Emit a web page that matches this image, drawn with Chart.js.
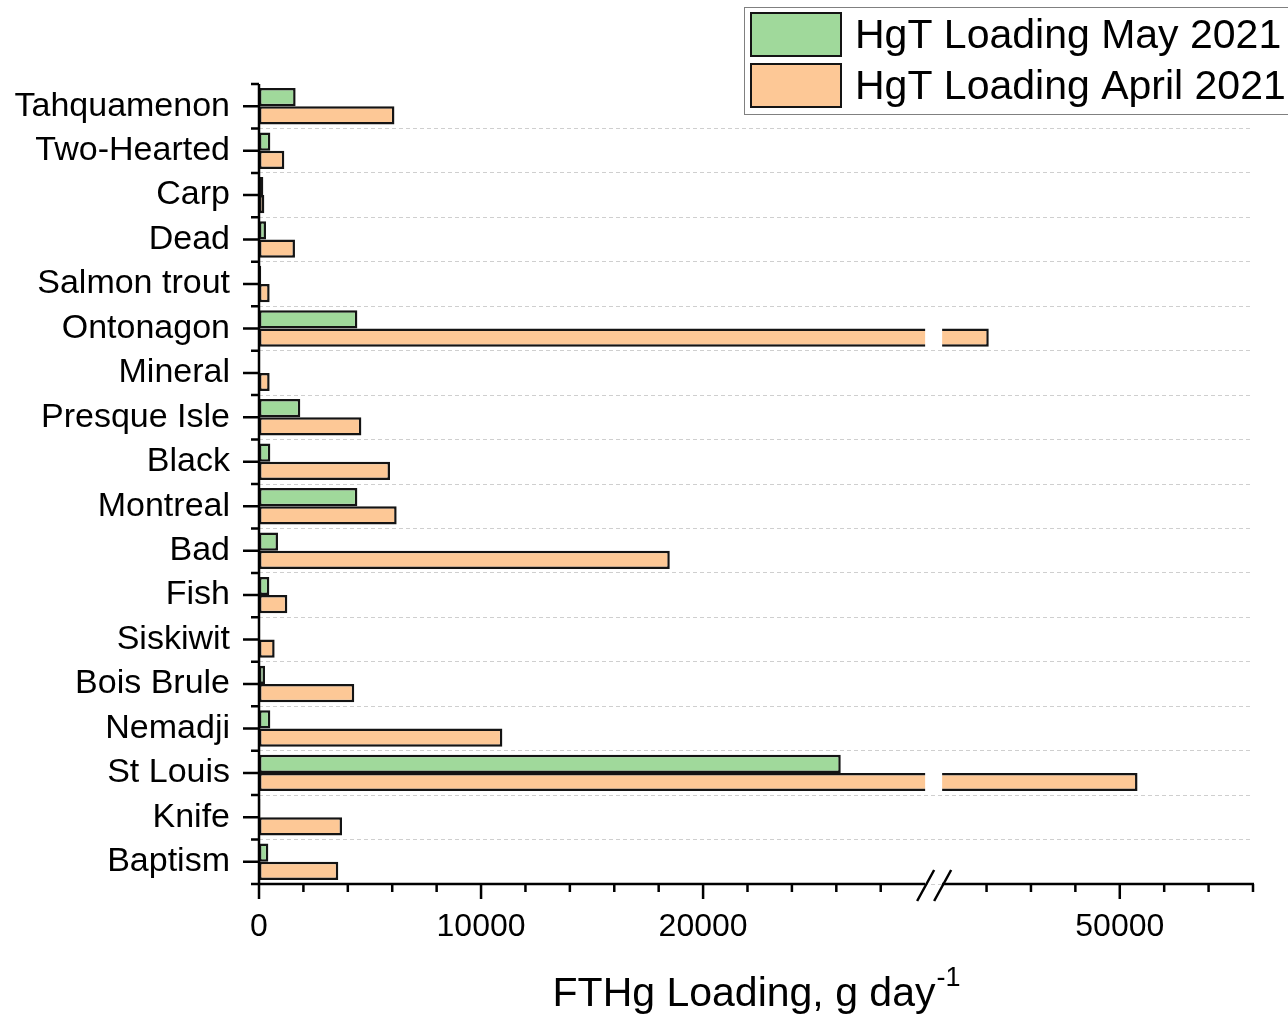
<!DOCTYPE html>
<html>
<head>
<meta charset="utf-8">
<script src="https://cdn.jsdelivr.net/npm/chart.js@4.4.1/dist/chart.umd.min.js"></script>
<style>
  html, body { margin: 0; padding: 0; background: #ffffff; }
  #wrap { width: 1288px; height: 1014px; }
</style>
</head>
<body>
<div id="wrap"><canvas id="loadingChart" width="1288" height="1014"></canvas></div>
<script>
// rivers, top to bottom
const categories = ['Tahquamenon', 'Two-Hearted', 'Carp', 'Dead', 'Salmon trout', 'Ontonagon',
  'Mineral', 'Presque Isle', 'Black', 'Montreal', 'Bad', 'Fish', 'Siskiwit', 'Bois Brule',
  'Nemadji', 'St Louis', 'Knife', 'Baptism'];

// HgT loading, g/day
const mayLoading = [1650, 510, 195, 315, 100, 4430, 20, 1860, 510, 4430, 855, 465, 40, 270,
  510, 26200, 60, 420];
const aprilLoading = [6100, 1140, 240, 1620, 480, 44100, 480, 4610, 5900, 6200, 18500, 1275, 705,
  4290, 10960, 50800, 3740, 3570];

const seriesLabels = ['HgT Loading May 2021', 'HgT Loading April 2021'];
const xMajorTicks = [0, 10000, 20000, 50000];
const xMinorStep = 2000;
const xBreak = [30000, 42000];
const xMax = 56000;
const axisTitle = 'FTHg Loading, g day';
const axisTitleSup = '-1';

// broken axis: values past the break are shifted left, leaving a small gap
const GAP = 766;
function toAxis(v) { return v <= xBreak[0] ? v : v - (xBreak[1] - xBreak[0]) + GAP; }
function fromAxis(a) { return a <= xBreak[0] ? a : a + (xBreak[1] - xBreak[0]) - GAP; }

const xTickValues = [];
for (let v = 0; v <= xMax; v += xMinorStep) {
  if (v < xBreak[0] || v > xBreak[1]) xTickValues.push(v);
}

const FONT = "'Liberation Sans', Arial, sans-serif";
Chart.defaults.font.family = FONT;
Chart.defaults.color = '#000000';

const colors = {
  may: '#a0d99b',
  april: '#fdc896',
  edge: '#141414',
  grid: '#cfcfcf'
};

// axes, break marks, legend and title (Origin style)
const brokenAxisPlugin = {
  id: 'brokenAxis',
  afterDatasetsDraw(chart) {
    const ctx = chart.ctx;
    const xs = chart.scales.x;
    const g0 = xs.getPixelForValue(xBreak[0]);
    const g1 = xs.getPixelForValue(toAxis(xBreak[1]));
    ctx.save();
    ctx.fillStyle = '#ffffff';
    chart.data.datasets.forEach((ds, di) => {
      chart.getDatasetMeta(di).data.forEach((bar, i) => {
        if (di === 0 ? mayLoading[i] > xBreak[0] : aprilLoading[i] > xBreak[0]) {
          ctx.fillRect(g0, bar.y - bar.height / 2 - 1, g1 - g0, bar.height + 2);
        }
      });
    });
    ctx.restore();
  },
  afterDraw(chart) {
    const ctx = chart.ctx;
    const area = chart.chartArea;
    const xs = chart.scales.x;
    const ys = chart.scales.y;
    const g0 = xs.getPixelForValue(xBreak[0]);
    const g1 = xs.getPixelForValue(toAxis(xBreak[1]));
    ctx.save();
    ctx.strokeStyle = '#000000';
    ctx.lineWidth = 2.5;
    ctx.lineCap = 'butt';

    // y axis line + ticks
    ctx.beginPath();
    ctx.moveTo(area.left, area.top);
    ctx.lineTo(area.left, area.bottom);
    const band = ys.getPixelForValue(1) - ys.getPixelForValue(0);
    categories.forEach((c, i) => {
      const y = ys.getPixelForValue(i);
      ctx.moveTo(area.left - 16, y);
      ctx.lineTo(area.left, y);
      ctx.moveTo(area.left - 8, y - band / 2);
      ctx.lineTo(area.left, y - band / 2);
    });
    ctx.moveTo(area.left - 8, area.bottom);
    ctx.lineTo(area.left, area.bottom);

    // x axis line (broken) + ticks
    ctx.moveTo(area.left, area.bottom);
    ctx.lineTo(g0, area.bottom);
    ctx.moveTo(g1, area.bottom);
    ctx.lineTo(area.right + 1, area.bottom);
    xTickValues.forEach(v => {
      const x = xs.getPixelForValue(toAxis(v));
      const len = xMajorTicks.includes(v) ? 15 : 8;
      ctx.moveTo(x, area.bottom);
      ctx.lineTo(x, area.bottom + len);
    });
    ctx.stroke();

    // break slashes
    ctx.beginPath();
    [g0 - 8, g1 - 8].forEach(x => {
      ctx.moveTo(x, area.bottom + 17);
      ctx.lineTo(x + 17, area.bottom - 14);
    });
    ctx.stroke();

    // legend
    ctx.strokeStyle = '#808080';
    ctx.lineWidth = 1;
    ctx.strokeRect(744.5, 7.5, 600, 107);
    ctx.font = '41px ' + FONT;
    ctx.textBaseline = 'middle';
    ctx.textAlign = 'left';
    chart.data.datasets.forEach((ds, i) => {
      const y = 12 + i * 51;
      ctx.fillStyle = ds.backgroundColor;
      ctx.fillRect(750, y, 92, 45);
      ctx.strokeStyle = ds.borderColor;
      ctx.lineWidth = 2;
      ctx.strokeRect(751, y + 1, 90, 43);
      ctx.fillStyle = '#000000';
      ctx.fillText(ds.label, 855, y + 25);
    });

    // x axis title with superscript
    ctx.textBaseline = 'alphabetic';
    ctx.font = '41px ' + FONT;
    const w1 = ctx.measureText(axisTitle).width;
    ctx.font = '27px ' + FONT;
    const w2 = ctx.measureText(axisTitleSup).width;
    const start = (area.left + area.right) / 2 - (w1 + w2) / 2;
    ctx.font = '41px ' + FONT;
    ctx.fillText(axisTitle, start, 1006);
    ctx.font = '27px ' + FONT;
    ctx.fillText(axisTitleSup, start + w1 + 1, 986);
    ctx.restore();
  }
};

const ctx = document.getElementById('loadingChart').getContext('2d');
new Chart(ctx, {
  type: 'bar',
  data: {
    labels: categories,
    datasets: [{
      label: seriesLabels[0],
      data: mayLoading.map(toAxis),
      backgroundColor: colors.may,
      borderColor: colors.edge,
      borderWidth: 2.5,
      borderSkipped: false,
      categoryPercentage: 0.82,
      barPercentage: 1
    }, {
      label: seriesLabels[1],
      data: aprilLoading.map(toAxis),
      backgroundColor: colors.april,
      borderColor: colors.edge,
      borderWidth: 2.5,
      borderSkipped: false,
      categoryPercentage: 0.82,
      barPercentage: 1
    }]
  },
  options: {
    indexAxis: 'y',
    responsive: false,
    animation: false,
    layout: { padding: { top: 84, right: 35, bottom: 0, left: 0 } },
    plugins: {
      legend: { display: false },
      tooltip: { enabled: false }
    },
    scales: {
      x: {
        type: 'linear',
        min: 0,
        max: toAxis(xMax),
        afterBuildTicks: s => { s.ticks = xTickValues.map(v => ({ value: toAxis(v) })); },
        ticks: {
          autoSkip: false,
          maxRotation: 0,
          padding: 24,
          font: { size: 32 },
          color: '#000000',
          callback: val => {
            const v = Math.round(fromAxis(val));
            return xMajorTicks.includes(v) ? String(v) : '';
          }
        },
        grid: { display: false, drawTicks: false },
        border: { display: false },
        afterFit: s => { s.height = 130; }
      },
      y: {
        type: 'category',
        ticks: { autoSkip: false, padding: 29, font: { size: 34 }, color: '#000000' },
        grid: {
          color: c => c.index === 0 ? 'rgba(0,0,0,0)' : colors.grid,
          lineWidth: 1,
          drawTicks: false
        },
        border: { display: false, dash: [4, 3] },
        afterFit: s => { s.width = 259; }
      }
    }
  },
  plugins: [brokenAxisPlugin]
});
</script>
</body>
</html>
